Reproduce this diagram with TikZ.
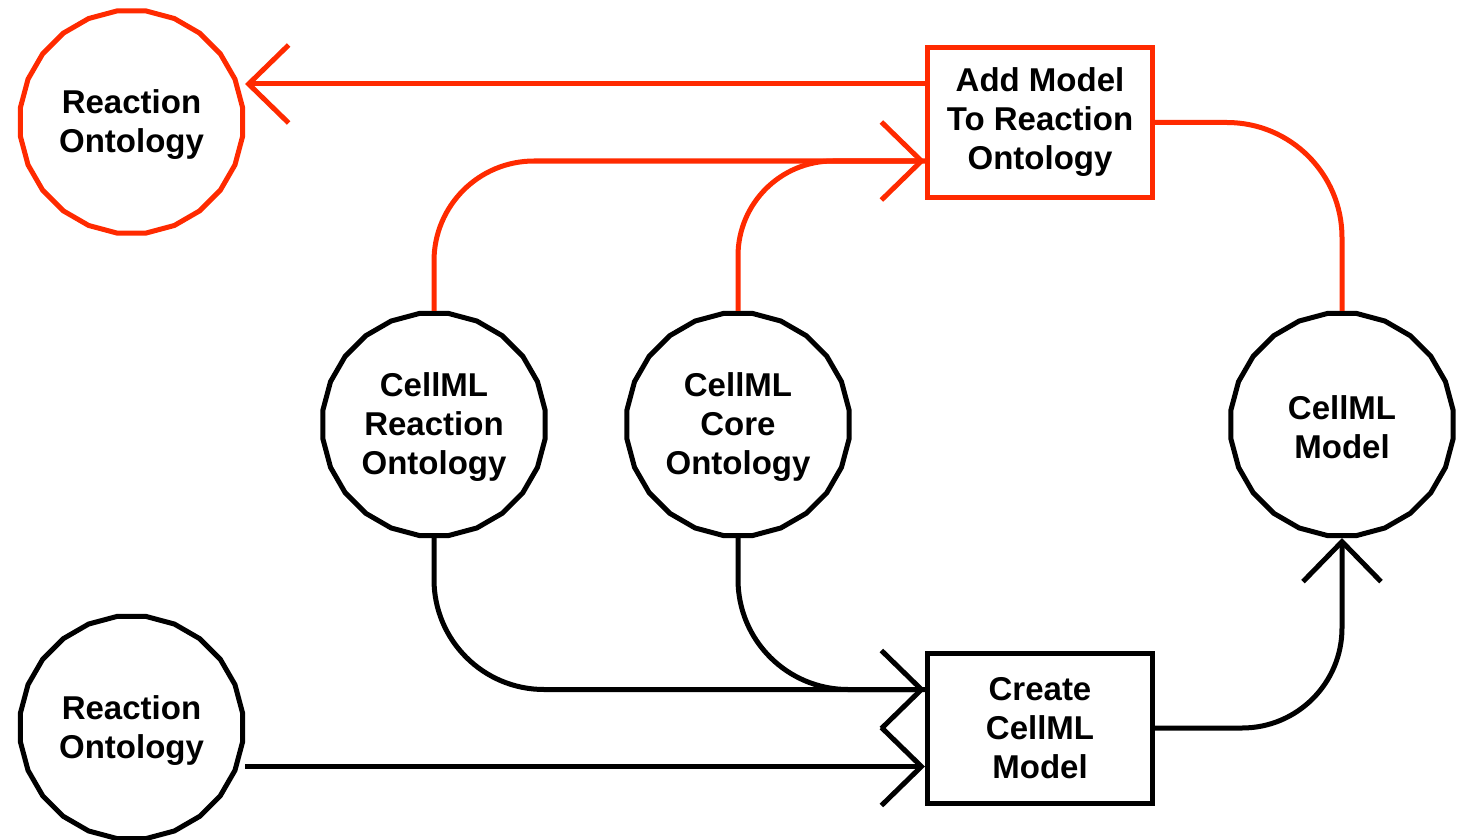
\documentclass[tikz,border=0pt]{standalone}
\usepackage{fontspec}
\setmainfont{Liberation Sans}
\usetikzlibrary{shapes.geometric,arrows.meta}
\definecolor{flowred}{RGB}{255,42,0}
\begin{document}
\begin{tikzpicture}[x=1pt,y=-1pt,
  every node/.style={font=\fontsize{33}{39}\selectfont\bfseries, align=center},
  ont/.style={draw, regular polygon, regular polygon sides=24, minimum size=224pt, inner sep=0pt, line width=5pt},
  proc/.style={draw, rectangle, minimum width=225pt, minimum height=150pt, inner sep=0pt, line width=5pt},
  label/.style={yshift=-3pt},
  link/.style={line width=5pt},
  barb/.style={-{Straight Barb[length=40pt,width=78pt]}},
]
\useasboundingbox (0,0) rectangle (1459,840);

% ontologies and processes
\node[ont, flowred] (RO1) at (131.5,122) {};
\node[ont] (CRO) at (434,424.5) {};
\node[ont] (CCO) at (738,424.5) {};
\node[ont] (CM) at (1342,424.5) {};
\node[ont] (RO2) at (131.5,727.5) {};
\node[label] (RO1t) at (RO1) {Reaction\\Ontology};
\node[label] (CROt) at (CRO) {CellML\\Reaction\\Ontology};
\node[label] (CCOt) at (CCO) {CellML\\Core\\Ontology};
\node[label] (CMt) at (CM) {CellML\\Model};
\node[label] (RO2t) at (RO2) {Reaction\\Ontology};
\node[proc, flowred, text=black] (Add) at (1040,122.5) {Add Model\\To Reaction\\Ontology};
\node[proc] (Create) at (1040,728) {Create\\CellML\\Model};

% arrow end points on the process boxes
\coordinate (a1) at ([yshift=38.5pt]Add.west);
\coordinate (a2) at ([yshift=-38.5pt]Add.west);
\coordinate (b1) at ([yshift=38.5pt]Create.west);
\coordinate (b2) at ([yshift=-38.5pt]Create.west);

% red flow
\draw[link, flowred, barb] (a1) -- (RO1.east |- a1);
\draw[link, flowred, barb, rounded corners=100pt] (CRO.north) |- (a2);
\draw[link, flowred, rounded corners=95pt] (CCO.north) |- (a2);
\draw[link, flowred, rounded corners=115pt] (Add.east) -| (CM.north);

% black flow
\draw[link, barb, rounded corners=110pt] (CRO.south) |- (b1);
\draw[link, rounded corners=110pt] (CCO.south) |- (b1);
\draw[link, barb] (RO2.east |- b2) -- (b2);
\draw[link, barb, rounded corners=100pt] (Create.east) -| (CM.south);
\end{tikzpicture}
\end{document}
